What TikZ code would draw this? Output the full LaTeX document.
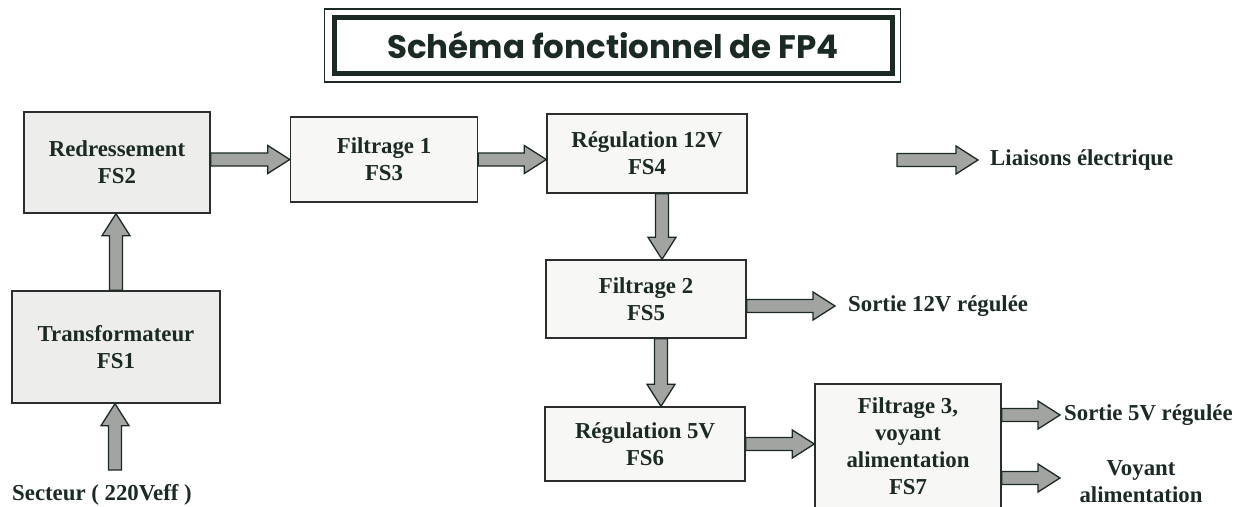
\documentclass[tikz,border=0pt]{standalone}
\usepackage{fontspec}
\setmainfont{Liberation Serif}
\newfontfamily\titrefont{Poppins}
\usetikzlibrary{calc}

\definecolor{encre}{HTML}{1C2A24}
\definecolor{trait}{HTML}{2A2E2C}
\definecolor{fondgris}{HTML}{EDEDEB}
\definecolor{fondclair}{HTML}{F7F7F5}
\definecolor{gris}{HTML}{A2A4A2}

\tikzset{
  bloc/.style={draw=trait, line width=1.4pt, fill=fondclair, align=center,
    text=encre, font=\fontsize{22.8}{27}\selectfont\bfseries, inner sep=0pt},
  texte/.style={text=encre, font=\fontsize{22.8}{27}\selectfont\bfseries, inner sep=0pt},
  fleche/.style={draw=encre, line width=1.3pt, fill=gris, line join=miter},
  titre/.style={draw=encre, line width=5pt, text=encre,
    font=\fontsize{32.5}{36}\selectfont\titrefont\bfseries,
    minimum width=558pt, minimum height=56pt}
}

\newcommand{\grossefleche}[2]{%
  \coordinate (pointe) at ($(#2)!22pt!(#1)$);
  \filldraw[fleche] ($(#1)!6.5pt!90:(#2)$) -- ($(pointe)!6.5pt!90:(#2)$)
    -- ($(pointe)!14pt!90:(#2)$) -- (#2) -- ($(pointe)!14pt!-90:(#2)$)
    -- ($(pointe)!6.5pt!-90:(#2)$) -- ($(#1)!6.5pt!-90:(#2)$) -- cycle;}

\begin{document}
\begin{tikzpicture}[x=1pt,y=-1pt]
  \useasboundingbox (0,0) rectangle (1238,506);

  \node[titre] (titre) at (613,45.5) {Schéma fonctionnel de FP4};
  \draw[encre, line width=1.2pt] ([shift={(-7pt,6pt)}]titre.north west)
    rectangle ([shift={(6pt,-6pt)}]titre.south east);

  \node[bloc, fill=fondgris, minimum width=208pt, minimum height=112pt] (fs1) at (116,347) {Transformateur\\FS1};
  \node[bloc, fill=fondgris, minimum width=186pt, minimum height=101pt] (fs2) at (117,162.5) {Redressement\\FS2};
  \node[bloc, minimum width=187pt, minimum height=85pt] (fs3) at (384,159.5) {Filtrage 1\\FS3};
  \node[bloc, minimum width=200pt, minimum height=79pt] (fs4) at (647,153.5) {Régulation 12V\\FS4};
  \node[bloc, minimum width=200pt, minimum height=78pt] (fs5) at (646,299) {Filtrage 2\\FS5};
  \node[bloc, minimum width=200pt, minimum height=74pt] (fs6) at (645,444) {Régulation 5V\\FS6};
  \node[bloc, minimum width=186pt, minimum height=125pt] (fs7) at (908,446.5) {Filtrage 3,\\voyant\\alimentation\\FS7};

  \node[texte, anchor=west] (secteur) at (12,495) {Secteur ( 220Veff )};
  \node[texte, anchor=west, inner xsep=12pt] (liaison) at (978,160) {Liaisons électrique};
  \node[texte, anchor=west, inner xsep=13pt] (s12) at (835,306) {Sortie 12V régulée};
  \node[texte, anchor=west, inner xsep=4pt] (s5) at (1060,415) {Sortie 5V régulée};
  \node[texte, align=center] (voyant) at (1141,482) {Voyant\\alimentation};

  \coordinate (entree) at (115,470);
  \coordinate (legende) at (897,160);
  \coordinate (c4) at ([xshift=15pt]fs4.south);
  \coordinate (c5) at ([xshift=15pt]fs5.south);
  \coordinate (pvoy) at (1060,478);

  \grossefleche{entree}{entree |- fs1.south}
  \grossefleche{fs1.north}{fs1.north |- fs2.south}
  \grossefleche{fs3.west -| fs2.east}{fs3.west}
  \grossefleche{fs3.east}{fs3.east -| fs4.west}
  \grossefleche{c4}{c4 |- fs5.north}
  \grossefleche{fs5.east |- s12.west}{s12.west}
  \grossefleche{c5}{c5 |- fs6.north}
  \grossefleche{fs6.east}{fs6.east -| fs7.west}
  \grossefleche{fs7.east |- s5.west}{s5.west}
  \grossefleche{fs7.east |- pvoy}{pvoy}
  \grossefleche{legende}{liaison.west}
\end{tikzpicture}
\end{document}
